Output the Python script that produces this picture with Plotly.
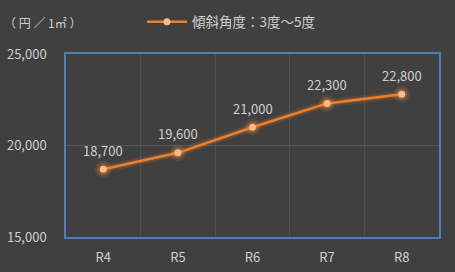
import plotly.graph_objects as go

categories = ["R4", "R5", "R6", "R7", "R8"]
values = [18700, 19600, 21000, 22300, 22800]
series_name = "傾斜角度：3度～5度"
y_ticks = [15000, 20000, 25000]
y_tick_labels = ["15,000", "20,000", "25,000"]
unit_label = "（ 円 ／ 1㎡ ）"

FONT = "Noto Sans CJK JP"
TXT = "#cfcfcf"
BG = "#404040"
ORANGE = "#f07f2c"

fig = go.Figure()
# soft glow layers
fig.add_trace(go.Scatter(x=categories, y=values, mode="lines+markers",
                         line=dict(color="rgba(255,140,50,0.10)", width=8),
                         marker=dict(size=17, color="rgba(255,140,50,0.12)"),
                         showlegend=False, hoverinfo="skip"))
fig.add_trace(go.Scatter(x=categories, y=values, mode="lines+markers",
                         line=dict(color="rgba(255,140,50,0.12)", width=5),
                         marker=dict(size=12, color="rgba(255,140,50,0.25)"),
                         showlegend=False, hoverinfo="skip"))
fig.add_trace(go.Scatter(x=categories, y=values, mode="lines+markers", name=series_name,
                         line=dict(color=ORANGE, width=2.5),
                         marker=dict(size=7, color="#f9bb8e", line=dict(width=0))))

for c, v in zip(categories, values):
    fig.add_annotation(x=c, y=v, text=f"{v:,}", showarrow=False, yshift=19,
                       font=dict(family=FONT, size=13, color=TXT))

fig.update_layout(
    width=455, height=272,
    margin=dict(l=66, r=16, t=54, b=35, autoexpand=False),
    paper_bgcolor=BG, plot_bgcolor=BG,
    font=dict(family=FONT, size=13, color=TXT),
    title=dict(text=unit_label, x=4/455, xanchor="left", xref="container",
               y=1 - 24/272, yanchor="middle", yref="container",
               font=dict(family=FONT, size=12, color=TXT)),
    legend=dict(orientation="h", x=142/455, xanchor="left", xref="container",
                y=1 - 22/272, yanchor="middle", yref="container",
                bgcolor="rgba(0,0,0,0)", font=dict(family=FONT, size=13.5, color=TXT),
                itemwidth=40),
    showlegend=True,
)
fig.update_xaxes(type="category", range=[-0.5, 4.5], tickson="boundaries",
                 showgrid=True, gridcolor="#4f4f4f", gridwidth=1,
                 showline=True, linecolor="#4f7fb5", linewidth=1.5, mirror=True,
                 ticks="", ticklabelstandoff=8, zeroline=False, automargin=False,
                 tickfont=dict(family=FONT, size=13, color=TXT))
fig.update_yaxes(range=[15000, 25000], tickvals=y_ticks, ticktext=y_tick_labels,
                 showgrid=True, gridcolor="#555555", gridwidth=1,
                 showline=True, linecolor="#4f7fb5", linewidth=1.5, mirror=True,
                 ticks="", ticklabelstandoff=15, zeroline=False, automargin=False,
                 tickfont=dict(family=FONT, size=13, color=TXT))

fig.write_html("out.html")
